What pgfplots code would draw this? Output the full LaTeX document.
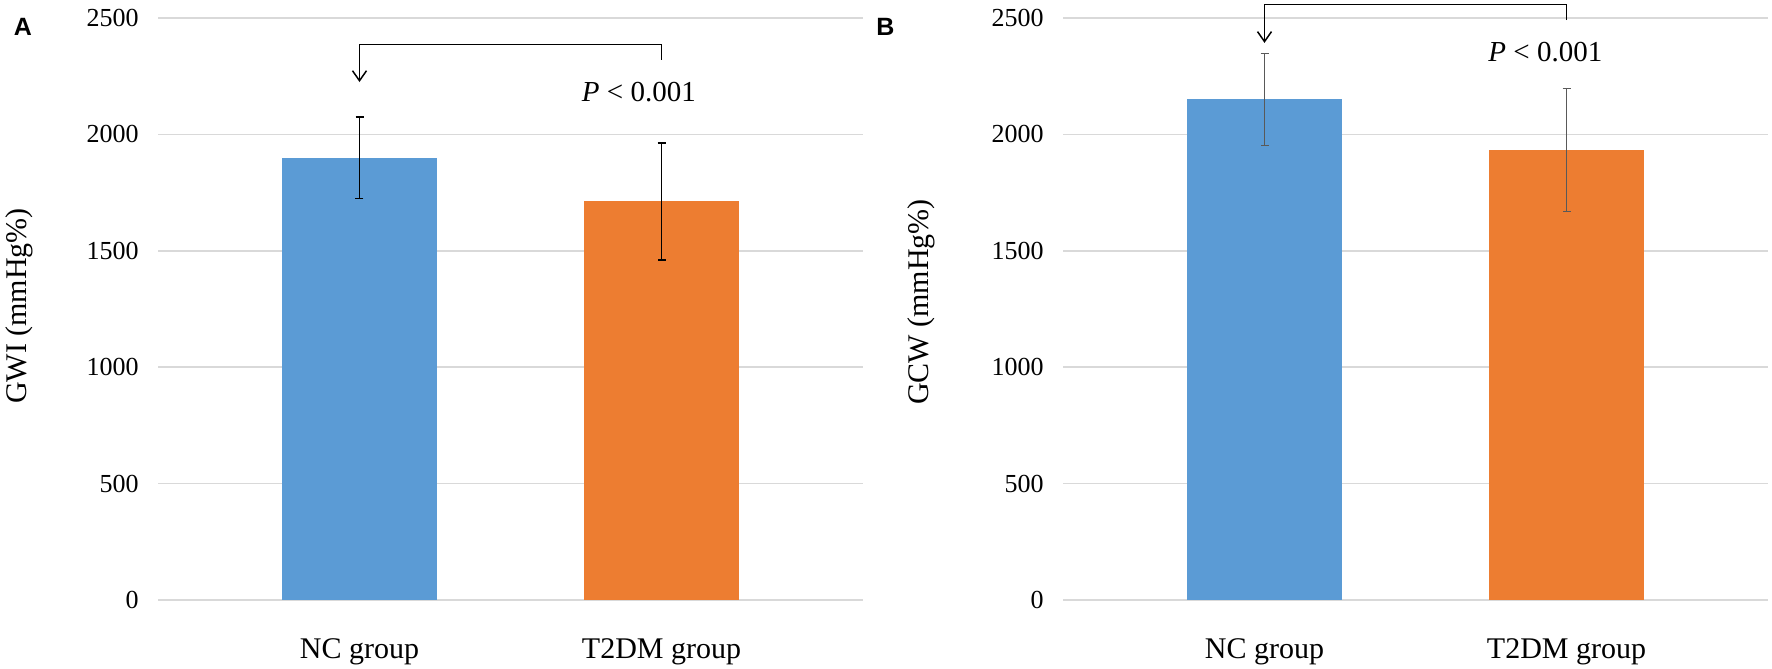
\documentclass[border=0pt]{standalone}
\usepackage{fontspec}
\setmainfont{Liberation Serif}
\newfontfamily\arialfont{Liberation Sans}
\usepackage{pgfplots}
\pgfplotsset{compat=1.18}
\usetikzlibrary{arrows.meta}

\definecolor{xlblue}{HTML}{5B9BD5}
\definecolor{xlorange}{HTML}{ED7D31}
\definecolor{xlgrid}{HTML}{D9D9D9}
\definecolor{errgray}{HTML}{595959}

\tikzset{bracket/.style={black, line width=0.75pt, -{Straight Barb[length=5pt,width=7pt]}}}

% 1 px of the reference = 0.5pt
\pgfplotsset{
  panel/.style={
    scale only axis,
    width=352.5pt, height=291pt,
    anchor=south west,
    xmin=-0.6672, xmax=1.6672,
    ymin=0, ymax=2500,
    ytick={0,500,...,2500},
    xtick={0,1},
    xticklabels={NC group, T2DM group},
    axis line style={draw=none},
    major tick length=0pt,
    ymajorgrids,
    grid style={xlgrid, line width=0.75pt},
    /pgf/number format/assume math mode=true,
    /pgf/number format/1000 sep={},
    yticklabel style={font=\fontsize{13}{15}\selectfont, anchor=east, inner sep=0pt, xshift=-9.5pt},
    xticklabel style={font=\fontsize{15}{18}\selectfont, anchor=base, inner sep=0pt, yshift=-29.5pt},
    ybar, bar width=77.5pt, bar shift=0pt,
    clip=false,
  },
}

\begin{document}
\begin{tikzpicture}
\useasboundingbox (0,0) rectangle (886pt,334.5pt);

% Panel A: GWI
\begin{axis}[panel, at={(79pt,34.5pt)},
  every axis y label/.style={at={(axis description cs:-0.197,0.505)}, rotate=90, anchor=center, font=\fontsize{15}{18}\selectfont},
  ylabel={GWI (mmHg\%)}]
\addplot[fill=xlblue, draw=none,
  error bars/.cd, y dir=both, y explicit,
  error bar style={black, line width=0.9pt},
  error mark options={black, line width=0.9pt, mark size=2pt, rotate=90}]
  coordinates {(0,1900) +- (0,175)};
\addplot[fill=xlorange, draw=none,
  error bars/.cd, y dir=both, y explicit,
  error bar style={black, line width=0.9pt},
  error mark options={black, line width=0.9pt, mark size=2pt, rotate=90}]
  coordinates {(1,1712) +- (0,250)};
\draw[bracket] (axis cs:1,2320) -- (axis cs:1,2387) -- (axis cs:0,2387) -- (axis cs:0,2225);
\node[font=\rmfamily\fontsize{14.5}{17}\selectfont, anchor=center] at (axis cs:0.925,2182) {\textit{P} < 0.001};
\end{axis}

% Panel B: GCW
\begin{axis}[panel, at={(531.5pt,34.5pt)},
  every axis y label/.style={at={(axis description cs:-0.201,0.512)}, rotate=90, anchor=center, font=\fontsize{15}{18}\selectfont},
  ylabel={GCW (mmHg\%)}]
\addplot[fill=xlblue, draw=none,
  error bars/.cd, y dir=both, y explicit,
  error bar style={errgray, line width=0.75pt},
  error mark options={errgray, line width=0.75pt, mark size=2pt, rotate=90}]
  coordinates {(0,2150) +- (0,197)};
\addplot[fill=xlorange, draw=none,
  error bars/.cd, y dir=both, y explicit,
  error bar style={errgray, line width=0.75pt},
  error mark options={errgray, line width=0.75pt, mark size=2pt, rotate=90}]
  coordinates {(1,1933) +- (0,265)};
\draw[bracket] (axis cs:1,2491) -- (axis cs:1,2559) -- (axis cs:0,2559) -- (axis cs:0,2393);
\node[font=\rmfamily\fontsize{14.5}{17}\selectfont, anchor=center] at (axis cs:0.93,2354) {\textit{P} < 0.001};
\end{axis}

% panel letters
\node[font=\arialfont\bfseries\fontsize{12.5}{14}\selectfont, anchor=center] at (11.5pt,321.25pt) {A};
\node[font=\arialfont\bfseries\fontsize{12.5}{14}\selectfont, anchor=center] at (442.75pt,321.25pt) {B};
\end{tikzpicture}
\end{document}
